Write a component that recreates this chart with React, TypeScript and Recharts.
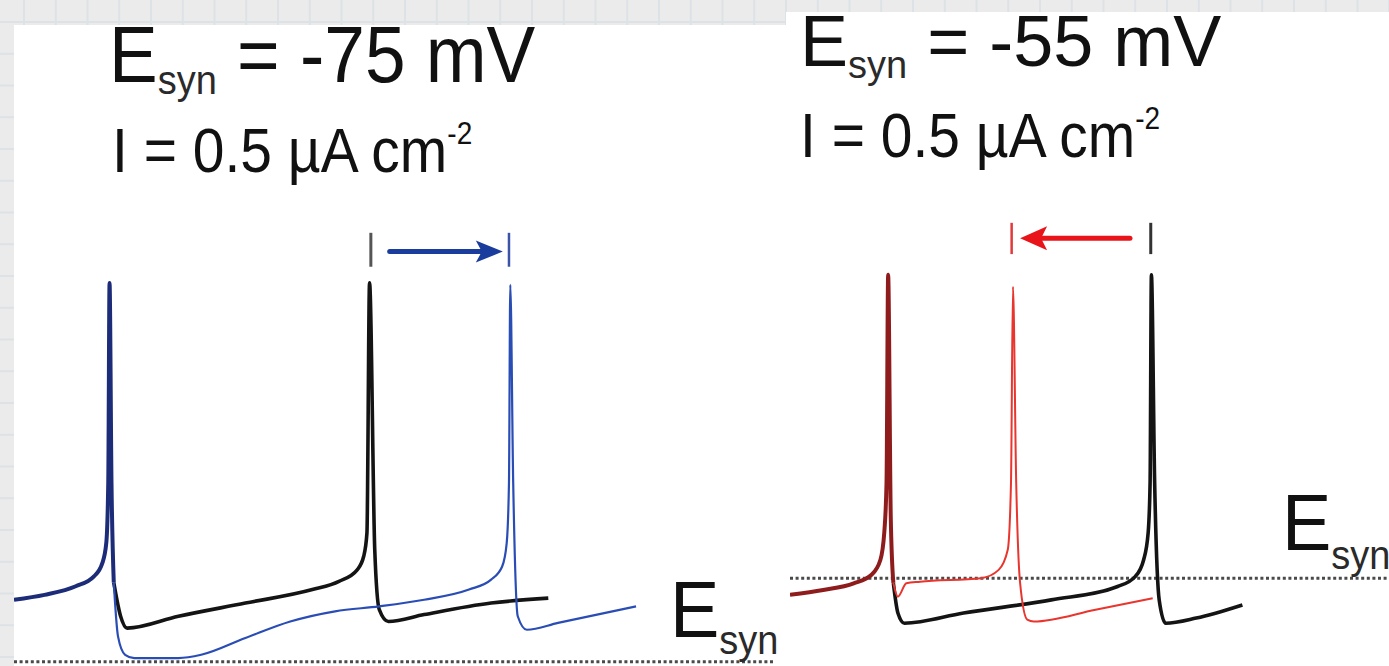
import React from 'react';
import { LineChart, Line, XAxis, YAxis, ReferenceLine } from 'recharts';

type Pt = { t: number; v: number };
const toPts = (rows: number[][]): Pt[] => rows.map(([t, v]) => ({ t, v }));

// ---- Left panel: E_syn = -75 mV (time in ms, membrane potential in mV) ----
const leftSharedTrace = toPts([
  [0, -56.2], [4.7, -54.7], [9.5, -52.1], [12.3, -49.1], [13.6, -45.0], [14.2, -38.9],
  [14.5, -20.7], [14.7, 40], [15.0, -20.7], [15.35, -51.0],
]);
const leftControlTrace = toPts([
  [15.35, -51.0], [16.4, -61.2], [17.4, -64.8], [25.3, -61.2], [35.6, -57.2], [45.9, -53.1],
  [50.0, -50.6], [52.8, -47.1], [53.8, -43.0], [54.3, -35.9], [54.7, 40], [55.5, -41.0],
  [56.2, -59.2], [57.6, -62.8], [63.1, -60.7], [73.4, -57.2], [82.2, -55.7],
]);
const leftSynapseTrace = toPts([
  [15.35, -51.0], [16.0, -67.3], [17.1, -72.9], [18.5, -73.9], [25.3, -73.9], [28.8, -72.9],
  [35.6, -67.8], [42.5, -62.8], [49.4, -59.7], [56.2, -58.2], [63.1, -56.2], [70.0, -53.1],
  [73.4, -50.1], [75.1, -46.1], [75.8, -39.0], [76.15, -20.7], [76.35, 39.4], [76.8, -20.7],
  [77.5, -61.2], [78.9, -65.3], [83.7, -63.2], [95.7, -58.2],
]);
const leftEsyn = -75;
const leftEsynSpan = [0, 117];
const leftSpikeTimes = [54.9, 76.15]; // control, with synapse
const leftArrowSpan = [57.8, 75.2];
const leftMarkerRange = [44.9, 55.2];
const leftArrowLevel = 49.5;

// ---- Right panel: E_syn = -55 mV ----
const rightSharedTrace = toPts([
  [0, -60.2], [5.1, -58.7], [9.8, -56.6], [12.5, -54.0], [13.9, -49.3], [14.5, -40.8],
  [14.85, -25.1], [15.1, 40], [15.5, -35.7], [15.9, -56.5],
]);
const rightControlTrace = toPts([
  [15.9, -56.5], [16.6, -65.9], [17.6, -69.1], [26.7, -65.9], [40.2, -61.8], [50.4, -57.6],
  [53.1, -54.5], [54.4, -49.3], [55.1, -40.8], [55.4, -25.1], [55.6, 40], [56.1, -25.1],
  [56.8, -61.8], [57.8, -69.1], [62.5, -67.5], [69.6, -63.4],
]);
const rightSynapseTrace = toPts([
  [15.9, -56.5], [16.6, -60.8], [17.9, -56.6], [20.0, -56.1], [29.4, -55.0], [32.1, -52.4],
  [33.5, -46.1], [34.0, -25.1], [34.3, 36.3], [34.8, -25.1], [35.4, -56.5], [36.5, -68.0],
  [37.5, -68.6], [47.0, -64.9], [55.8, -61.3],
]);
const rightEsyn = -55;
const rightEsynSpan = [0, 92];
const rightSpikeTimes = [55.5, 34.1]; // control, with synapse
const rightArrowSpan = [52.3, 35.4];
const rightMarkerRange = [46.5, 56.3];
const rightArrowLevel = 51.5;

const FONT = '"Liberation Sans", Arial, Helvetica, sans-serif';

const makeArrow = (color: string, width: number, headLen: number, headHalf: number) =>
  (props: any) => {
    const { x1, y1, x2, y2 } = props;
    const dx = x2 - x1;
    const dy = y2 - y1;
    const len = Math.hypot(dx, dy) || 1;
    const ux = dx / len;
    const uy = dy / len;
    const bx = x2 - ux * headLen;
    const by = y2 - uy * headLen;
    const nx = bx + ux * 6;
    const ny = by + uy * 6;
    const px = -uy;
    const py = ux;
    return (
      <g>
        <line x1={x1} y1={y1} x2={nx} y2={ny} stroke={color} strokeWidth={width} strokeLinecap="round" />
        <polygon
          points={`${x2},${y2} ${bx + px * headHalf},${by + py * headHalf} ${nx},${ny} ${bx - px * headHalf},${by - py * headHalf}`}
          fill={color}
        />
      </g>
    );
  };

const seg = (x1: number, y1: number, x2: number, y2: number) => [
  { x: x1, y: y1 },
  { x: x2, y: y2 },
];

const Stretch = ({ y, s, children }: { y: number; s: number; children: React.ReactNode }) => (
  <g transform={`translate(0 ${y}) scale(1 ${s}) translate(0 ${-y})`}>{children}</g>
);

export default function App() {
  return (
    <div
      style={{
        position: 'absolute',
        left: 0,
        top: 0,
        width: 1389,
        height: 666,
        overflow: 'hidden',
        backgroundColor: '#ebebeb',
        backgroundImage:
          'linear-gradient(to right, #dce2e5 2px, transparent 2px), linear-gradient(to bottom, #dce2e5 2px, transparent 2px)',
        backgroundSize: '31.75px 31.75px',
        backgroundPosition: '23px 21px',
      }}
    >
      <div style={{ position: 'absolute', left: 14, top: 25, width: 772, height: 641, background: '#ffffff' }} />
      <div style={{ position: 'absolute', left: 786, top: 12, width: 603, height: 654, background: '#ffffff' }} />

      {/* Left panel chart */}
      <div style={{ position: 'absolute', left: 14, top: 217 }}>
        <LineChart width={780} height={448} margin={{ top: 0, right: 0, bottom: 0, left: 0 }}>
          <XAxis type="number" dataKey="t" domain={[0, 120]} hide allowDataOverflow />
          <YAxis type="number" domain={[-76, 60]} hide allowDataOverflow />
          <ReferenceLine
            segment={seg(leftEsynSpan[0], leftEsyn, leftEsynSpan[1], leftEsyn)}
            stroke="#4a4a4a"
            strokeWidth={3}
            strokeDasharray="3 2.6"
          />
          <Line data={leftControlTrace} dataKey="v" type="monotone" stroke="#141414" strokeWidth={3.6} dot={false} activeDot={false} isAnimationActive={false} />
          <Line data={leftSharedTrace} dataKey="v" type="monotone" stroke="#1c2c78" strokeWidth={4} dot={false} activeDot={false} isAnimationActive={false} />
          <Line data={leftSynapseTrace} dataKey="v" type="monotone" stroke="#2a4db5" strokeWidth={2.2} dot={false} activeDot={false} isAnimationActive={false} />
          <ReferenceLine
            segment={seg(leftSpikeTimes[0], leftMarkerRange[0], leftSpikeTimes[0], leftMarkerRange[1])}
            stroke="#555"
            strokeWidth={3}
          />
          <ReferenceLine
            segment={seg(leftSpikeTimes[1], leftMarkerRange[0], leftSpikeTimes[1], leftMarkerRange[1])}
            stroke="#3a55a8"
            strokeWidth={2.5}
          />
          <ReferenceLine
            segment={seg(leftArrowSpan[0], leftArrowLevel, leftArrowSpan[1], leftArrowLevel)}
            shape={makeArrow('#1a3c9c', 5, 27, 11)}
          />
        </LineChart>
      </div>

      {/* Right panel chart */}
      <div style={{ position: 'absolute', left: 790, top: 211 }}>
        <LineChart width={598} height={447} margin={{ top: 0, right: 0, bottom: 0, left: 0 }}>
          <XAxis type="number" dataKey="t" domain={[0, 92]} hide allowDataOverflow />
          <YAxis type="number" domain={[-80, 60]} hide allowDataOverflow />
          <ReferenceLine
            segment={seg(rightEsynSpan[0], rightEsyn, rightEsynSpan[1], rightEsyn)}
            stroke="#4a4a4a"
            strokeWidth={3}
            strokeDasharray="3 2.6"
          />
          <Line data={rightControlTrace} dataKey="v" type="monotone" stroke="#141414" strokeWidth={3.6} dot={false} activeDot={false} isAnimationActive={false} />
          <Line data={rightSynapseTrace} dataKey="v" type="monotone" stroke="#e8352e" strokeWidth={2} dot={false} activeDot={false} isAnimationActive={false} />
          <Line data={rightSharedTrace} dataKey="v" type="monotone" stroke="#8e1c1c" strokeWidth={4} dot={false} activeDot={false} isAnimationActive={false} />
          <ReferenceLine
            segment={seg(rightSpikeTimes[0], rightMarkerRange[0], rightSpikeTimes[0], rightMarkerRange[1])}
            stroke="#333"
            strokeWidth={3}
          />
          <ReferenceLine
            segment={seg(rightSpikeTimes[1], rightMarkerRange[0], rightSpikeTimes[1], rightMarkerRange[1])}
            stroke="#e03a3a"
            strokeWidth={2.5}
          />
          <ReferenceLine
            segment={seg(rightArrowSpan[0], rightArrowLevel, rightArrowSpan[1], rightArrowLevel)}
            shape={makeArrow('#e8141a', 5, 27, 12)}
          />
        </LineChart>
      </div>

      {/* Text */}
      <svg width={1389} height={666} style={{ position: 'absolute', left: 0, top: 0, pointerEvents: 'none' }}>
        <g fontFamily={FONT} fill="#111">
          <Stretch y={82} s={1.08}>
            <text x={109} y={82} fontSize={73}>
              E<tspan dy={11} fontSize={38} fill="#2a2a2a">syn</tspan>
              <tspan dy={-11}> = -75 mV</tspan>
            </text>
          </Stretch>
          <Stretch y={172} s={1.12}>
            <text x={112} y={172} fontSize={57}>
              I = 0.5 µA cm<tspan dy={-25} fontSize={28}>-2</tspan>
            </text>
          </Stretch>
          <Stretch y={637} s={1.08}>
            <text x={670} y={637} fontSize={74}>
              E<tspan dy={16} fontSize={38} fill="#2a2a2a">syn</tspan>
            </text>
          </Stretch>

          <text x={800} y={66} fontSize={72}>
            E<tspan dy={12} fontSize={38} fill="#2a2a2a">syn</tspan>
            <tspan dy={-12}> = -55 mV</tspan>
          </text>
          <Stretch y={157} s={1.12}>
            <text x={800} y={157} fontSize={57}>
              I = 0.5 µA cm<tspan dy={-25} fontSize={28}>-2</tspan>
            </text>
          </Stretch>
          <Stretch y={550} s={1.08}>
            <text x={1282} y={550} fontSize={74}>
              E<tspan dy={18} fontSize={38} fill="#2a2a2a">syn</tspan>
            </text>
          </Stretch>
        </g>
      </svg>
    </div>
  );
}
